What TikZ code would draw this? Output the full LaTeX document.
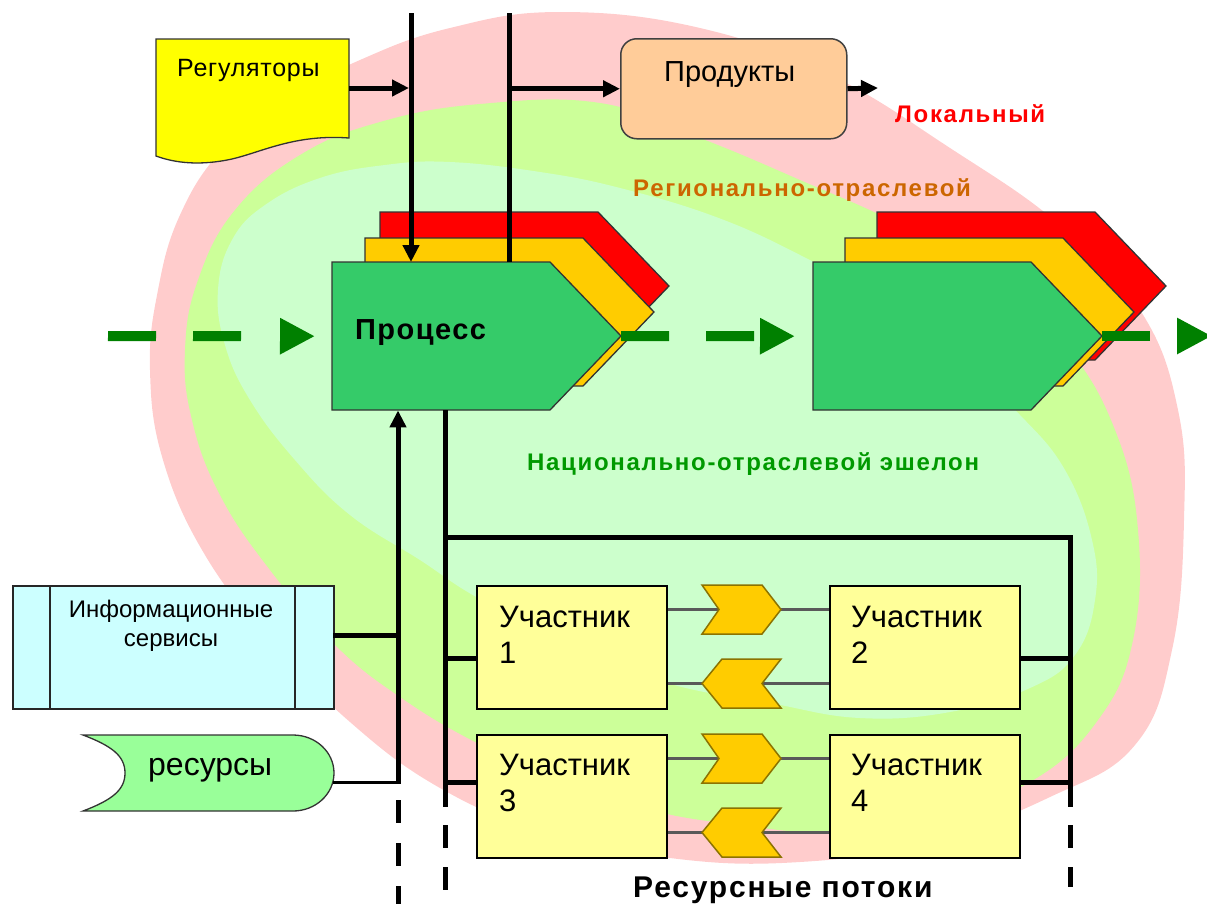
\documentclass[tikz,border=0pt]{standalone}
\usepackage{fontspec}
\setmainfont{Liberation Sans}
\usetikzlibrary{arrows.meta,calc}

\definecolor{zonelocal}{HTML}{FFCCCC}
\definecolor{zoneregion}{HTML}{CCFF99}
\definecolor{zonenation}{HTML}{CCFFCC}
\definecolor{procgreen}{HTML}{35CB69}
\definecolor{procyellow}{HTML}{FFCC00}
\definecolor{procred}{HTML}{FF0000}
\definecolor{flowgreen}{HTML}{008000}
\definecolor{regyellow}{HTML}{FFFF00}
\definecolor{prodpeach}{HTML}{FFCC99}
\definecolor{infocyan}{HTML}{CCFFFF}
\definecolor{reslime}{HTML}{99FF99}
\definecolor{partyellow}{HTML}{FFFF99}
\definecolor{labbrown}{HTML}{CC6600}
\definecolor{labgreen}{HTML}{009900}
\definecolor{chevedge}{HTML}{8C7300}

\tikzset{
  blacktip/.tip={Triangle[length=17pt,width=16pt]},
  flowtip/.tip={Triangle[length=35pt,width=34pt]},
  wire/.style={line width=5pt},
  thinwire/.style={line width=3pt},
  flow/.style={draw=flowgreen, line width=10pt, -flowtip, dash pattern=on 48pt off 37pt},
  link/.style={draw=black!65, line width=2.5pt},
  chev/.style={fill=procyellow, draw=chevedge, line width=1.5pt, line join=miter},
  edge/.style={draw=black!80, line width=1.3pt, line join=miter},
  part/.style={draw=black, line width=2pt, fill=partyellow, minimum width=190pt,
    minimum height=123pt, anchor=north west, inner sep=0pt},
  txt/.style={inner sep=0pt, anchor=base west},
  plain/.style={font=\fontsize{#1}{#1}\selectfont},
  heavy/.style={font=\fontsize{#1}{#1}\selectfont\bfseries\addfontfeature{LetterSpace=7}},
}

% process block: a pentagon pointing right, 289 wide and 148 high
\newcommand\procblock[3]{%
  \filldraw[fill=#3, edge] (#1,#2) -- ++(218,0) -- ++(71,74) -- ++(-71,74) -- ++(-218,0) -- cycle;}
% chevrons between participants
\newcommand\chevright[2]{%
  \filldraw[chev] (#1,#2) -- ++(60,0) -- ++(19,24.5) -- ++(-19,24.5) -- ++(-60,0) -- ++(17,-24.5) -- cycle;}
\newcommand\chevleft[2]{%
  \filldraw[chev] ({#1+20},#2) -- ++(59,0) -- ++(-19,24.5) -- ++(19,24.5) -- ++(-59,0) -- ++(-20,-24.5) -- cycle;}

\begin{document}
\begin{tikzpicture}[x=1pt,y=-1pt]
\useasboundingbox (0,0) rectangle (1207,903);

% nested zones
\fill[zonelocal] plot[smooth cycle, tension=0.7] coordinates {
  (560,12) (700,28) (830,75) (950,148) (1060,225) (1140,310) (1178,410) (1184,520)
  (1172,650) (1135,745) (1050,797) (930,842) (800,862) (670,858) (540,830) (440,788)
  (350,722) (270,640) (205,555) (163,460) (150,370) (158,290) (180,215) (222,150)
  (285,100) (360,60) (450,28)};
\fill[zoneregion] plot[smooth cycle, tension=0.7] coordinates {
  (600,103) (700,138) (800,180) (900,225) (990,280) (1065,345) (1115,430) (1138,530)
  (1133,640) (1098,720) (1030,782) (930,818) (830,832) (740,825) (650,810) (560,780)
  (477,743) (400,697) (335,645) (270,570) (220,495) (192,420) (185,350) (198,280)
  (235,210) (300,155) (380,122) (480,104)};
\fill[zonenation] plot[smooth cycle, tension=0.7] coordinates {
  (450,162) (540,172) (620,188) (716,217) (800,255) (880,300) (960,360) (1020,415)
  (1065,470) (1092,540) (1095,600) (1075,655) (1030,688) (950,712) (860,718) (770,703)
  (667,683) (570,645) (478,598) (420,560) (350,515) (295,460) (250,400) (225,345)
  (218,290) (232,240) (265,205) (320,178) (385,165)};

% zone labels
\node[txt, heavy=24, text=procred] (lbllocal) at (895,122) {Локальный};
\node[txt, heavy=24, text=labbrown] (lblregion) at (633,196) {Регионально-отраслевой};
\node[txt, heavy=24, text=labgreen] (lblnation) at (527,470) {Национально-отраслевой эшелон};

% regulators document
\filldraw[fill=regyellow, edge] (156,39) -- (349,39) -- (349,138)
  .. controls (295,134) and (262,152) .. (232,159)
  .. controls (200,166) and (175,163) .. (156,156) -- cycle;
\node[txt, font=\fontsize{25}{25}\selectfont\addfontfeature{LetterSpace=3}] (regtext) at (177,76) {Регуляторы};
\coordinate (regR) at (349,88);

% products
\node[draw=black!75, line width=1.5pt, fill=prodpeach, rounded corners=16pt,
  minimum width=226pt, minimum height=100pt, anchor=north west, inner sep=0pt] (prod) at (620,38) {};
\node[txt, plain=29] (prodtext) at (664,81) {Продукты};

% process stacks
\procblock{380}{212}{procred}
\procblock{365}{238}{procyellow}
\procblock{332}{262}{procgreen}
\node[minimum width=218pt, minimum height=148pt, anchor=north west, inner sep=0pt] (proc1) at (332,262) {};
\coordinate (proc1tip) at (621,336);
\node[txt, font=\fontsize{29}{29}\selectfont\bfseries\addfontfeature{LetterSpace=5}] (proctext) at (355,339) {Процесс};

\procblock{877}{212}{procred}
\procblock{845}{238}{procyellow}
\procblock{813}{262}{procgreen}
\node[minimum width=218pt, minimum height=148pt, anchor=north west, inner sep=0pt] (proc2) at (813,262) {};
\coordinate (proc2tip) at (1102,336);

% main flow
\coordinate (flowin) at (108,336);
\coordinate (flowout) at (1212,336);
\draw[flow, dash pattern=on 48pt off 37pt on 48pt off 90pt, shorten >=17pt] (flowin) -- (proc1.west);
\draw[flow, shorten >=18pt] (proc1tip) -- (proc2.west);
\draw[flow] (proc2tip) -- (flowout);

% controls and outputs above the process
\coordinate (top1) at (411,13);
\coordinate (top2) at (509,13);
\coordinate (regjoin) at (409,88);
\coordinate (prodout) at (878,88);
\draw[wire, -blacktip] (top1) -- (top1 |- proc1.north);
\draw[wire] (top2) -- (top2 |- proc1.north);
\draw[wire, -blacktip] (regR) -- (regjoin);
\draw[wire, -blacktip] (top2 |- prod.west) -- (prod.west);
\draw[wire, -blacktip] (prod.east) -- (prodout);

% information services
\node[draw=black!85, line width=2pt, fill=infocyan, minimum width=321pt, minimum height=123pt,
  anchor=north west, inner sep=0pt] (info) at (12,585) {};
\draw[line width=2pt, black!85] (50,585) -- (50,708) (295,585) -- (295,708);
\node[inner sep=0pt, anchor=base, plain=24] (infotext1) at (171,617) {Информационные};
\node[inner sep=0pt, anchor=base, plain=24] (infotext2) at (171,646) {сервисы};
\coordinate (infoR) at (333,635);

% resources
\filldraw[fill=reslime, edge] (83,735) -- (293,735) arc[start angle=-90, end angle=90, x radius=41, y radius=38]
  -- (83,811) .. controls (112,800) and (125,790) .. (125,773)
  .. controls (125,756) and (112,746) .. (83,735) -- cycle;
\node[txt, plain=32] (restext) at (148,775) {ресурсы};
\coordinate (resR) at (333,782);

% inputs below the process
\coordinate (busA) at (398,782);
\coordinate (busAdash) at (398,800);
\coordinate (busAend) at (398,910);
\draw[thinwire] (resR) -- (busA);
\draw[wire] (infoR) -- (infoR -| busA);
\draw[wire, -blacktip] ([yshift=-1.5pt]busA) -- (busA |- proc1.south);
\draw[wire, dash pattern=on 23pt off 20pt] (busAdash) -- (busAend);

% participant bus
\coordinate (busB) at (445,537);
\coordinate (busC) at (1070,537);
\coordinate (busBend) at (445,807);
\coordinate (busCend) at (1070,807);
\draw[wire] (busB |- proc1.south) -- (busBend);
\draw[wire, line join=miter] (busB) -- (busC) -- (busCend);
\draw[wire, dash pattern=on 23pt off 19pt] (445,825) -- (445,890);
\draw[wire, dash pattern=on 23pt off 19pt] (1070,825) -- (1070,887);

% participants
\node[part] (p1) at (476,585) {};
\node[part] (p2) at (829,585) {};
\node[part] (p3) at (476,734) {};
\node[part] (p4) at (829,734) {};
\node[txt, plain=31] (p1a) at (499,627) {Участник};
\node[txt, plain=31] (p1b) at (499,663) {1};
\node[txt, plain=31] (p2a) at (851,627) {Участник};
\node[txt, plain=31] (p2b) at (851,663) {2};
\node[txt, plain=31] (p3a) at (499,775) {Участник};
\node[txt, plain=31] (p3b) at (499,811) {3};
\node[txt, plain=31] (p4a) at (851,775) {Участник};
\node[txt, plain=31] (p4b) at (851,811) {4};

\draw[wire] (busB |- 0,658) -- (p1.west |- 0,658);
\draw[wire] (busB |- 0,782) -- (p3.west |- 0,782);
\draw[wire] (p2.east |- 0,658) -- (busC |- 0,658);
\draw[wire] (p4.east |- 0,782) -- (busC |- 0,782);

% resource flows between participants
\draw[link] (p1.east |- 0,609.5) -- (718,609.5) (781,609.5) -- (p2.west |- 0,609.5);
\draw[link] (p2.west |- 0,683.5) -- (762,683.5) (702,683.5) -- (p1.east |- 0,683.5);
\draw[link] (p3.east |- 0,758.5) -- (718,758.5) (781,758.5) -- (p4.west |- 0,758.5);
\draw[link] (p4.west |- 0,832.5) -- (762,832.5) (702,832.5) -- (p3.east |- 0,832.5);
\chevright{702}{585}
\chevleft{702}{659}
\chevright{702}{734}
\chevleft{702}{808}

\node[txt, font=\fontsize{30}{30}\selectfont\bfseries\addfontfeature{LetterSpace=6}] (flowtext) at (633,897) {Ресурсные потоки};
\end{tikzpicture}
\end{document}
